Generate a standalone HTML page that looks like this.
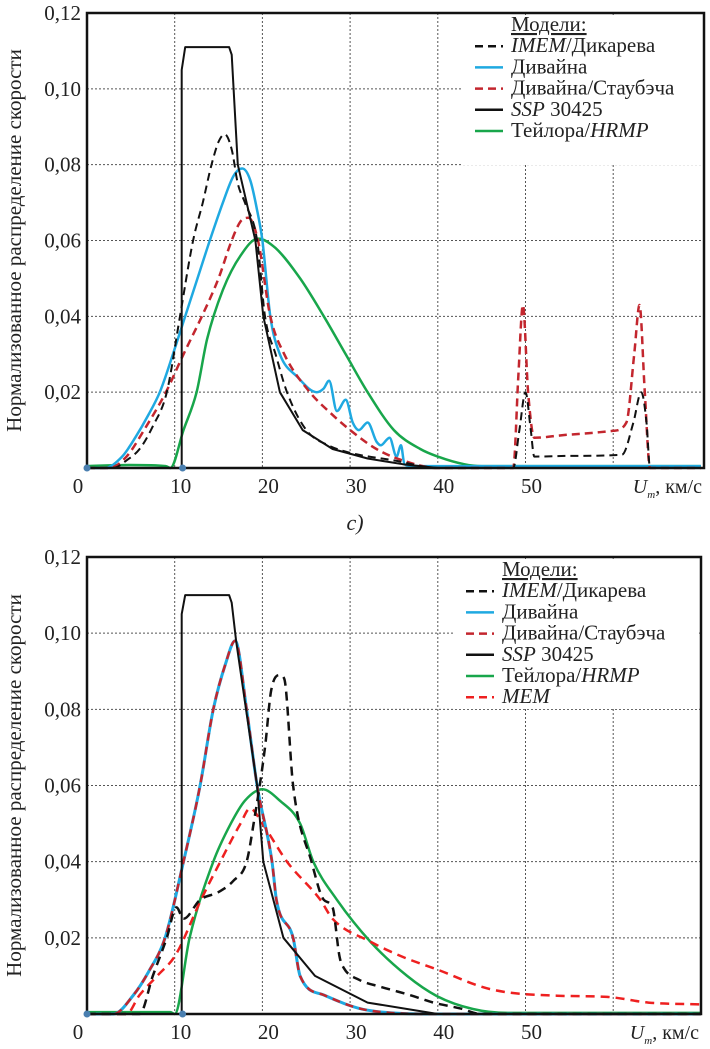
<!DOCTYPE html>
<html><head><meta charset="utf-8">
<style>
html,body{margin:0;padding:0;background:#fff;}
svg{display:block;font-family:"Liberation Serif","Times New Roman","DejaVu Serif","Noto Serif CJK SC",serif;}
svg text{font-family:"Liberation Serif","Times New Roman","DejaVu Serif","Noto Serif CJK SC",serif;fill:#222;}
</style></head>
<body>
<svg id="fig" width="710" height="1049" viewBox="0 0 710 1049" xmlns="http://www.w3.org/2000/svg"></svg>
<script>
// ---- shared axis data ----
const xTicks = [0,10,20,30,40,50];
const yTicks = [0.02,0.04,0.06,0.08,0.10,0.12];
const yTickLabels = ["0,02","0,04","0,06","0,08","0,10","0,12"];

// ---- top chart data (x: km/s, y: normalized) ----
const topImemX = [0,3,4.5,6,7.5,9.1,10.6,12.1,13.2,14.2,15,15.7,16.5,17.2,18,19.4,20.3,21.5,22.8,25,27.5,30,35,40,48.6,49.3,50,50.6,51,55,61,62.3,63.2,63.8,64.2,70];
const topImemY = [0,0,0.002,0.005,0.011,0.02,0.04,0.06,0.07,0.08,0.086,0.088,0.084,0.075,0.07,0.06,0.04,0.03,0.02,0.01,0.006,0.004,0.002,0,0,0.01,0.02,0.01,0.003,0.0032,0.0035,0.012,0.02,0.012,0,0];
const topDivX = [0,2,4,5.5,7,8.3,9.8,11.2,12.6,14,15.5,16.7,17.7,18.6,19.4,20,20.9,22,24,26.2,27,27.6,28.5,29.5,30.3,31,32,33,33.5,34.5,35.3,35.8,36.2,37,70];
const topDivY = [0,0,0.003,0.008,0.014,0.02,0.03,0.04,0.05,0.06,0.07,0.077,0.079,0.076,0.068,0.06,0.04,0.03,0.024,0.02,0.021,0.023,0.015,0.018,0.012,0.01,0.012,0.007,0.006,0.008,0.003,0.006,0.001,0.0005,0.0005];
const topStauX = [0,2.5,4.5,6.5,9,11,13.1,15,16.5,17.5,18.4,19.5,20.9,22.5,25.4,28,30,33,36,40,48.6,49.2,49.7,50.3,51,55,60,61.5,62.4,63,63.6,64.2,70];
const topStauY = [0,0,0.003,0.01,0.02,0.03,0.04,0.05,0.06,0.065,0.066,0.06,0.04,0.03,0.02,0.014,0.01,0.005,0.002,0,0,0.025,0.043,0.02,0.008,0.0088,0.0098,0.012,0.03,0.043,0.02,0,0];
const topSspX = [0,10.8,10.8,11.2,16.2,16.5,17.2,19.2,20.1,22,24.6,28,32,36,40,70];
const topSspY = [0,0,0.105,0.111,0.111,0.109,0.08,0.06,0.04,0.02,0.01,0.005,0.0025,0.001,0,0];
const topTayX = [0,5,9,9.5,11,12.5,13.7,15.5,17.5,19.5,21.5,24.3,27,29.5,32,35,38,40,43,45,70];
const topTayY = [0.0005,0.0008,0.0005,0,0.01,0.02,0.034,0.047,0.056,0.0605,0.058,0.05,0.04,0.03,0.02,0.01,0.005,0.003,0.001,0.0005,0.0005];

// ---- bottom chart data ----
const botImemX = [0,6,7.5,9.1,10.2,11,12.9,15,16.7,18.2,19,20.3,21,22,22.5,23.5,25.6,27,28,28.8,29.3,31,33.4,36.8,39.5,42.5,45,70];
const botImemY = [0,0,0.01,0.02,0.028,0.025,0.03,0.032,0.035,0.04,0.05,0.07,0.085,0.089,0.088,0.06,0.04,0.03,0.028,0.015,0.012,0.009,0.0072,0.005,0.003,0.0015,0,0];
const botDivX = [0,3,5.3,7,8.9,11,12.9,14.4,15.8,16.9,18.2,19.4,21.1,21.6,23.5,24.3,27,32,40,70];
const botDivY = [0,0,0.005,0.011,0.02,0.04,0.06,0.08,0.092,0.098,0.08,0.06,0.04,0.03,0.02,0.01,0.005,0.001,0,0];
const botSspX = [0,10.8,10.8,11.2,16.2,16.5,17,19.4,20.1,22.4,26,32,40,70];
const botSspY = [0,0,0.105,0.110,0.110,0.108,0.098,0.06,0.04,0.02,0.01,0.003,0,0];
const botTayX = [0,9.5,10,11.7,14.4,16.4,18,20,22,24.3,25.8,28.5,32.3,36.5,39.9,44,48,70];
const botTayY = [0.0005,0.0005,0,0.02,0.04,0.05,0.056,0.059,0.056,0.05,0.04,0.03,0.019,0.01,0.0047,0.0013,0.0003,0.0003];
const botMemX = [0,4.5,6,8,10.1,13,15.2,17.5,18.6,20,22.8,26.6,28,32.3,36,39.9,46,53.6,59.3,64,70];
const botMemY = [0,0,0.005,0.01,0.0155,0.03,0.04,0.05,0.054,0.05,0.04,0.03,0.025,0.019,0.015,0.0117,0.0065,0.0048,0.0045,0.003,0.0025];

const NS = "http://www.w3.org/2000/svg";
const svg = document.getElementById('fig');
const FONT = '"Liberation Serif", "Times New Roman", "DejaVu Serif", "Noto Serif CJK SC", serif';
function mk(tag, attrs, parent){const e=document.createElementNS(NS,tag);for(const k in attrs)e.setAttribute(k,attrs[k]);if(tag==='text'){e.setAttribute('font-family',FONT);e.style.fontFamily=FONT;}(parent||svg).appendChild(e);return e;}

function monoPath(px, py){
  const n = px.length;
  const d=[], m=[];
  for(let i=0;i<n-1;i++){ const dx=px[i+1]-px[i]; d.push(dx>0?(py[i+1]-py[i])/dx:0); }
  m.push(d[0]);
  for(let i=1;i<n-1;i++){ m.push(d[i-1]*d[i]<=0?0:(d[i-1]+d[i])/2); }
  m.push(d[n-2]);
  for(let i=0;i<n-1;i++){
    if(d[i]===0){m[i]=0;m[i+1]=0;continue;}
    const a=m[i]/d[i], b=m[i+1]/d[i], s=a*a+b*b;
    if(s>9){const t=3/Math.sqrt(s);m[i]=t*a*d[i];m[i+1]=t*b*d[i];}
  }
  let p='M'+px[0].toFixed(1)+','+py[0].toFixed(1);
  for(let i=0;i<n-1;i++){
    const h=(px[i+1]-px[i])/3;
    p+=' C'+(px[i]+h).toFixed(1)+','+(py[i]+m[i]*h).toFixed(1)+' '+(px[i+1]-h).toFixed(1)+','+(py[i+1]-m[i+1]*h).toFixed(1)+' '+px[i+1].toFixed(1)+','+py[i+1].toFixed(1);
  }
  return p;
}

function chart(cfg){
  const g = mk('g',{});
  
  
  const x0=87, pxu=8.77;
  const sx = v => x0 + v*pxu;
  const sy = v => cfg.yb - v*(cfg.yb-cfg.yt)/0.12;
  for(const t of xTicks.slice(1).concat([60])){
    const ln = mk('line',{x1:sx(t),x2:sx(t),y1:cfg.yt,y2:cfg.yb,stroke:'#555','stroke-width':1,'stroke-dasharray':'2,2'},g);
    
    
  }
  for(const t of yTicks.slice(0,5)){
    const ln = mk('line',{x1:x0,x2:cfg.xr,y1:sy(t),y2:sy(t),stroke:'#555','stroke-width':1,'stroke-dasharray':'2,2'},g);
    
    
  }
  const lb = mk('rect',{x:cfg.lx,y:cfg.yt+2,width:cfg.xr-cfg.lx-2,height:cfg.lh,fill:'#fff'},g);
  
  
  for(const s of cfg.series){
    const px = s.xs.map(sx), py = s.ys.map(sy);
    const d = s.sharp ? px.map((v,i)=>(i?'L':'M')+v.toFixed(1)+','+py[i].toFixed(1)).join(' ') : monoPath(px,py);
    const p = mk('path',{d:d,fill:'none',stroke:s.color,'stroke-width':s.w,'stroke-linejoin':'round'},g);
    if(s.dash) p.setAttribute('stroke-dasharray',s.dash);
    
    
  }
  const fr = mk('rect',{x:x0,y:cfg.yt,width:cfg.xr-x0,height:cfg.yb-cfg.yt,fill:'none',stroke:'#111','stroke-width':2.5},g);
  
  
  for(const v of [0,10.9]){
    const c = mk('circle',{cx:sx(v),cy:cfg.yb,r:3.5,fill:'#4a7fb0'},g);
    
    
  }
  yTicks.forEach((t,i)=>{
    const tx = mk('text',{x:81,y:sy(t)+7,'font-size':21,'text-anchor':'end'},g);
    tx.textContent = yTickLabels[i];
    
    
  });
  xTicks.forEach(t=>{
    const tx = mk('text',{x:t===0?78:sx(t)+6,y:cfg.yb+25,'font-size':21,'text-anchor':'middle'},g);
    tx.textContent = String(t);
    
    
  });
  const xt = mk('text',{x:cfg.xr-2,y:cfg.yb+25,'font-size':20,'text-anchor':'end'},g);
  xt.innerHTML = '<tspan font-style="italic">U</tspan><tspan font-style="italic" font-size="11" dy="5">m</tspan><tspan dy="-5">, км/с</tspan>';
  
  
  const yt = mk('text',{x:0,y:0,'font-size':21,'text-anchor':'middle',transform:'translate(21,'+((cfg.yt+cfg.yb)/2)+') rotate(-90)'},g);
  yt.textContent = 'Нормализованное распределение скорости';
  
  
  const tt = mk('text',{x:cfg.tx,y:cfg.ly0+6,'font-size':21,'text-decoration':'underline'},g);
  tt.textContent = 'Модели:';
  
  
  cfg.legend.forEach((e,i)=>{
    const y = cfg.ly0 + (i+1)*21.2;
    const ln = mk('line',{x1:cfg.tx-36,x2:cfg.tx-8,y1:y,y2:y,stroke:e.color,'stroke-width':2.5},g);
    if(e.dash) ln.setAttribute('stroke-dasharray','8,5');
    
    
    const t = mk('text',{x:cfg.tx,y:y+6,'font-size':21},g);
    t.innerHTML = e.label;
    
    
  });
}

const DRED='#c3262e', RED='#ee2020', BLUE='#1fa9e1', GREEN='#18a64b', BLK='#111';
chart({name:'top-chart',yt:13,yb:468,xr:704,lx:462,lh:150,tx:511,ly0:25,
  series:[
    {id:'top-taylor-hrmp',xs:topTayX,ys:topTayY,color:GREEN,w:2.5},
    {id:'top-divine',xs:topDivX,ys:topDivY,color:BLUE,w:2.5},
    {id:'top-divine-staubach',xs:topStauX,ys:topStauY,color:DRED,w:2.5,dash:'8,5'},
    {id:'top-imem',xs:topImemX,ys:topImemY,color:BLK,w:2,dash:'8,5'},
    {id:'top-ssp30425',xs:topSspX,ys:topSspY,color:BLK,w:2,sharp:true}
  ],
  legend:[
    {label:'<tspan font-style="italic">IMEM</tspan>/Дикарева',color:BLK,dash:true},
    {label:'Дивайна',color:BLUE},
    {label:'Дивайна/Стаубэча',color:DRED,dash:true},
    {label:'<tspan font-style="italic">SSP</tspan> 30425',color:BLK},
    {label:'Тейлора/<tspan font-style="italic">HRMP</tspan>',color:GREEN}
  ]});
chart({name:'bottom-chart',yt:557,yb:1014,xr:701,lx:455,lh:150,tx:502,ly0:570,
  series:[
    {id:'bottom-taylor-hrmp',xs:botTayX,ys:botTayY,color:GREEN,w:2.5},
    {id:'bottom-mem',xs:botMemX,ys:botMemY,color:RED,w:2.5,dash:'9,6'},
    {id:'bottom-divine',xs:botDivX,ys:botDivY,color:BLUE,w:3},
    {id:'bottom-divine-staubach',xs:botDivX,ys:botDivY,color:DRED,w:2.5,dash:'8,6'},
    {id:'bottom-imem',xs:botImemX,ys:botImemY,color:BLK,w:2.5,dash:'9,6'},
    {id:'bottom-ssp30425',xs:botSspX,ys:botSspY,color:BLK,w:2,sharp:true}
  ],
  legend:[
    {label:'<tspan font-style="italic">IMEM</tspan>/Дикарева',color:BLK,dash:true},
    {label:'Дивайна',color:BLUE},
    {label:'Дивайна/Стаубэча',color:DRED,dash:true},
    {label:'<tspan font-style="italic">SSP</tspan> 30425',color:BLK},
    {label:'Тейлора/<tspan font-style="italic">HRMP</tspan>',color:GREEN},
    {label:'<tspan font-style="italic">MEM</tspan>',color:RED,dash:true}
  ]});
const cl = mk('text',{x:355,y:530,'font-size':22,'font-style':'italic','text-anchor':'middle'});
cl.textContent = 'c)';


</script>
</body></html>
